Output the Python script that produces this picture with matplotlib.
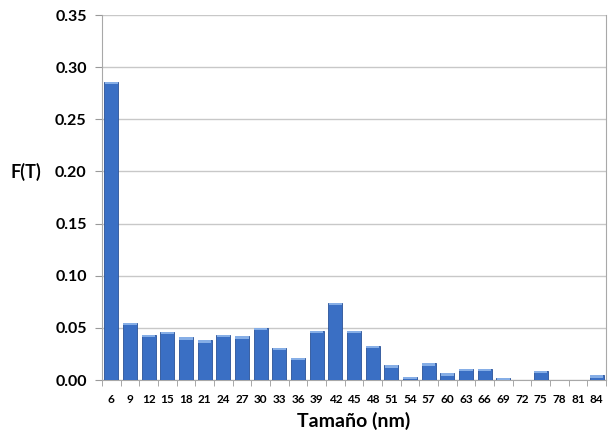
import numpy as np
import matplotlib
matplotlib.use("Agg")
import matplotlib.pyplot as plt

plt.rcParams['font.family'] = ['Lato', 'DejaVu Sans']

sizes = [6, 9, 12, 15, 18, 21, 24, 27, 30, 33, 36, 39, 42, 45, 48, 51, 54, 57,
         60, 63, 66, 69, 72, 75, 78, 81, 84]
freq = [0.286, 0.055, 0.043, 0.046, 0.041, 0.038, 0.043, 0.042, 0.050, 0.031,
        0.021, 0.047, 0.074, 0.047, 0.033, 0.014, 0.003, 0.016, 0.0065, 0.011,
        0.011, 0.002, 0.0, 0.009, 0.0, 0.0, 0.0045]
yticks = [0.00, 0.05, 0.10, 0.15, 0.20, 0.25, 0.30, 0.35]

fig = plt.figure(figsize=(6.09, 4.34), dpi=100)
ax = fig.add_axes([0.1675, 0.1244, 0.8275, 0.841])

x = np.arange(len(sizes))
ax.bar(x, freq, width=0.76, color='#3a6fc4', edgecolor='#2a5298', linewidth=0.6, zorder=3)
# lighter cap on top of each bar
ax.bar(x, [0.0022 if f > 0 else 0 for f in freq], bottom=[f - 0.0022 for f in freq],
       width=0.72, color='#86aee6', edgecolor='none', zorder=4)

ax.set_xlim(-0.5, len(sizes) - 0.5)
ax.set_ylim(0, 0.35)
ax.set_yticks(yticks)
ax.set_yticklabels([f"{v:.2f}" for v in yticks], fontsize=11.5, fontweight='bold')
ax.set_xticks(x)
ax.set_xticklabels([str(s) for s in sizes], fontsize=8.5, fontweight='bold')
ax.set_xticks(np.arange(len(sizes) + 1) - 0.5, minor=True)
ax.tick_params(axis='x', which='major', length=0, pad=10)
ax.tick_params(axis='x', which='minor', length=4, color='#999999')
ax.tick_params(axis='y', length=5, color='#999999', pad=6)

ax.grid(axis='y', color='#c8c8c8', linewidth=1, zorder=0)
for s in ['left', 'right', 'bottom']:
    ax.spines[s].set_color('#a8a8a8')
ax.spines['top'].set_visible(False)

ax.set_xlabel('Tamaño (nm)', fontsize=14, fontweight='bold', labelpad=5)
ax.set_ylabel('F(T)', fontsize=13, fontweight='bold', rotation=0, va='center', ha='center')
ax.yaxis.set_label_coords(-0.152, 0.57)

fig.savefig('out.png', dpi=100)
